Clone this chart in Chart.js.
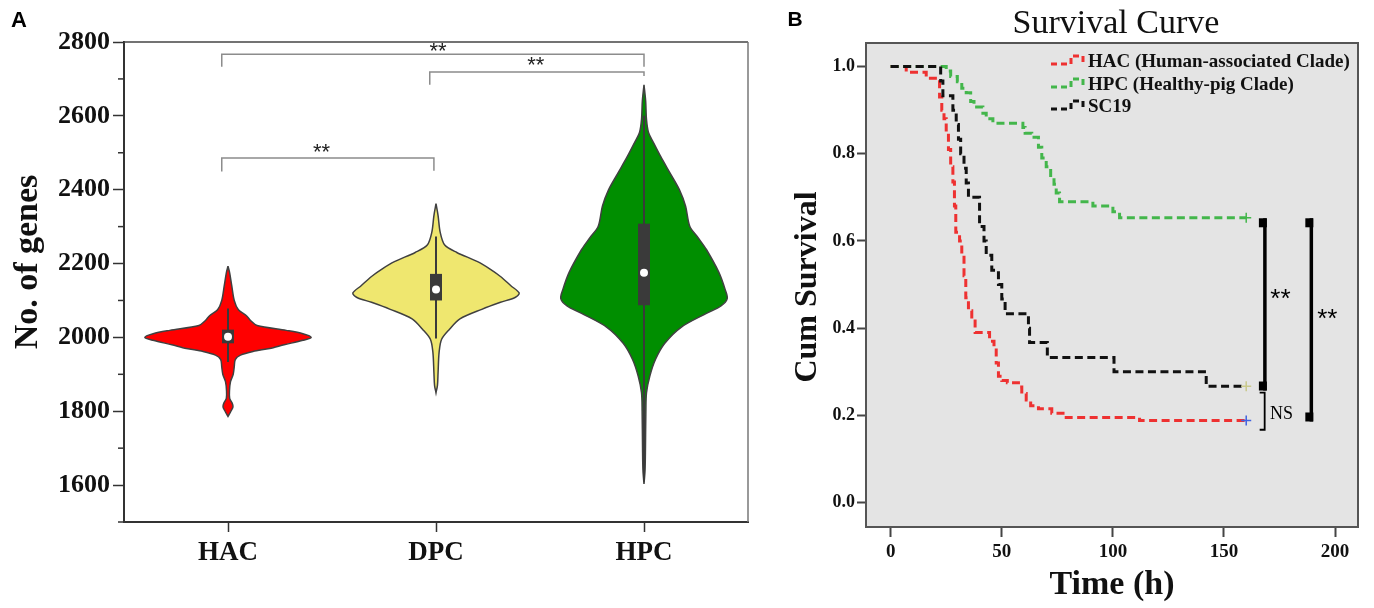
<!DOCTYPE html>
<html>
<head>
<meta charset="utf-8">
<script src="https://cdn.jsdelivr.net/npm/chart.js@4.4.0/dist/chart.umd.min.js"></script>
<style>
  body { margin: 0; background: #fff; width: 1374px; height: 608px; overflow: hidden; position: relative; }
  .panel { position: absolute; top: 0; height: 608px; }
  #pa { left: 0; width: 770px; }
  #pb { left: 770px; width: 604px; }
</style>
</head>
<body>
<div class="panel" id="pa"><canvas id="violin"></canvas></div>
<div class="panel" id="pb"><canvas id="survival"></canvas></div>
<script>
// ---- panel A data ----
const groups = ['HAC', 'DPC', 'HPC'];
const groupColors = ['#ff0000', '#efe76f', '#008e00'];

// violin outline: gene count (top to bottom) and half width in category units
const hacGenes = [2193, 2175, 2140, 2100, 2075, 2058, 2045, 2032, 2019, 2010, 2000, 1992, 1980, 1970, 1962, 1952, 1940, 1920, 1900, 1880, 1855, 1835, 1822, 1812, 1800, 1786];
const hacWidth = [0, 0.008, 0.018, 0.03, 0.05, 0.09, 0.11, 0.14, 0.28, 0.36, 0.40, 0.36, 0.27, 0.20, 0.12, 0.06, 0.035, 0.03, 0.025, 0.012, 0.007, 0.008, 0.02, 0.024, 0.014, 0];
const dpcGenes = [2362, 2330, 2285, 2250, 2230, 2205, 2185, 2165, 2140, 2120, 2108, 2095, 2076, 2050, 2022, 1995, 1960, 1905, 1870, 1850];
const dpcWidth = [0, 0.01, 0.02, 0.042, 0.10, 0.20, 0.26, 0.31, 0.36, 0.40, 0.38, 0.31, 0.22, 0.115, 0.065, 0.027, 0.015, 0.01, 0.007, 0];
const hpcGenes = [2684, 2640, 2590, 2554, 2527, 2490, 2446, 2400, 2355, 2301, 2270, 2238, 2176, 2130, 2105, 2085, 2065, 2028, 1984, 1940, 1895, 1850, 1800, 1700, 1640, 1603];
const hpcWidth = [0, 0.008, 0.012, 0.022, 0.046, 0.08, 0.124, 0.17, 0.20, 0.22, 0.26, 0.30, 0.36, 0.39, 0.40, 0.37, 0.30, 0.18, 0.10, 0.055, 0.028, 0.012, 0.009, 0.007, 0.005, 0];

// box: lower whisker, q1, median, q3, upper whisker
const hacBox = [1933, 1984, 2002, 2021, 2078];
const dpcBox = [1997, 2100, 2130, 2172, 2273];
const hpcBox = [1610, 2087, 2175, 2308, 2600];

const geneTicks = [1600, 1800, 2000, 2200, 2400, 2600, 2800];
const geneMinor = [1500, 1700, 1900, 2100, 2300, 2500, 2700];

// significance bars: from, to, bar level, left leg end, right leg end
const sigBars = [[-0.03, 0.99, 2486, 2449, 2451], [-0.03, 2.0, 2767, 2733, 2733], [0.97, 2.0, 2719, 2684, 2708]];
const sigStars = [[0.45, 2511], [1.01, 2784], [1.48, 2746]];

// ---- panel B data ----
const timeTicks = [0, 50, 100, 150, 200];
const survTicks = [0, 0.2, 0.4, 0.6, 0.8, 1.0];
const hacTime = [0, 7, 16, 22, 23, 24, 25, 26, 27, 28, 28.7, 29.3, 31, 32, 33, 33.8, 35, 36.5, 38, 44.5, 46.5, 47.5, 48.5, 50, 52.5, 57.5, 59, 61, 63, 66.5, 72.5, 79, 112, 160];
const hacSurv = [1, 0.987, 0.973, 0.93, 0.90, 0.88, 0.85, 0.81, 0.77, 0.735, 0.68, 0.62, 0.60, 0.57, 0.52, 0.47, 0.44, 0.42, 0.39, 0.37, 0.35, 0.32, 0.29, 0.28, 0.275, 0.265, 0.25, 0.235, 0.222, 0.215, 0.205, 0.195, 0.188, 0.188];
const hpcTime = [0, 25, 27, 30, 32, 34, 36, 37.5, 41.5, 43, 46, 59.5, 60.5, 63.5, 66.5, 68, 70, 72, 73.5, 74.5, 76, 91, 100, 103, 160];
const hpcSurv = [1, 0.99, 0.977, 0.965, 0.95, 0.94, 0.92, 0.907, 0.893, 0.88, 0.87, 0.86, 0.847, 0.838, 0.815, 0.79, 0.77, 0.75, 0.73, 0.71, 0.69, 0.68, 0.667, 0.653, 0.653];
const scTime = [0, 22.5, 23.5, 28, 29.5, 30.5, 31.5, 33, 34, 35, 40, 42, 43, 45.5, 48.5, 50, 51.5, 62, 62.5, 70.5, 100.5, 142, 160];
const scSurv = [1, 0.967, 0.933, 0.9, 0.867, 0.833, 0.8, 0.767, 0.733, 0.7, 0.633, 0.6, 0.567, 0.533, 0.5, 0.467, 0.433, 0.4, 0.367, 0.333, 0.3, 0.267, 0.267];
const curveNames = ['HAC (Human-associated Clade)', 'HPC (Healthy-pig Clade)', 'SC19'];
const curveColors = ['#ee3131', '#43b64b', '#111111'];
const censorColors = ['#4062e0', '#43b64b', '#c9c98c'];

// bracket: time, top, bottom
const sigLinesB = [[168.4, 0.652, 0.257], [189.3, 0.652, 0.186]];
const sigStarsB = [[175.4, 0.476], [196.5, 0.43]];
const nsBracket = [168.3, 0.252, 0.167];
const nsLabel = [175.9, 0.203];

const serif = '"Liberation Serif", "Times New Roman", serif';
const sans = '"Liberation Sans", Arial, sans-serif';
Chart.defaults.font.family = serif;

function violinPoints(c, genes, widths) {
  const right = genes.map((g, i) => ({x: c + widths[i], y: g}));
  const left = genes.map((g, i) => ({x: c - widths[i], y: g})).reverse();
  return right.concat(left);
}

const violinData = [[hacGenes, hacWidth], [dpcGenes, dpcWidth], [hpcGenes, hpcWidth]];
const boxes = [hacBox, dpcBox, hpcBox];
const datasetsA = [];
violinData.forEach(([g, w], i) => {
  const b = boxes[i];
  datasetsA.push({data: violinPoints(i, g, w), borderColor: '#404040', borderWidth: 1.5,
    backgroundColor: groupColors[i], fill: 'shape', tension: 0.3, pointRadius: 0, order: 4});
  datasetsA.push({data: [{x: i, y: b[0]}, {x: i, y: b[4]}], borderColor: '#3a3a3a', borderWidth: 2,
    pointRadius: 0, fill: false, order: 3});
  datasetsA.push({data: [{x: i, y: b[1]}, {x: i, y: b[3]}], borderColor: '#3a3a3a', borderWidth: 12,
    borderCapStyle: 'butt', pointRadius: 0, fill: false, order: 2});
  datasetsA.push({data: [{x: i, y: b[2]}], showLine: false, pointRadius: 4, pointBackgroundColor: '#fff',
    pointBorderWidth: 0, order: 1});
});
sigBars.forEach(s => {
  datasetsA.push({data: [{x: s[0], y: s[3]}, {x: s[0], y: s[2]}, {x: s[1], y: s[2]}, {x: s[1], y: s[4]}],
    borderColor: '#8c8c8c', borderWidth: 1.5, pointRadius: 0, fill: false, order: 0});
});

const panelA = {
  id: 'panelA',
  afterDraw(chart) {
    const {ctx, chartArea: a, scales: {x, y}} = chart;
    ctx.save();
    ctx.lineWidth = 1.5;
    ctx.strokeStyle = '#444';
    ctx.beginPath(); ctx.moveTo(a.left, a.top); ctx.lineTo(a.right, a.top); ctx.stroke();
    ctx.strokeStyle = '#777';
    ctx.beginPath(); ctx.moveTo(a.right, a.top); ctx.lineTo(a.right, a.bottom); ctx.stroke();
    ctx.strokeStyle = '#333';
    geneMinor.forEach(v => {
      const py = y.getPixelForValue(v);
      ctx.beginPath(); ctx.moveTo(a.left - 6, py); ctx.lineTo(a.left, py); ctx.stroke();
    });
    ctx.fillStyle = '#222';
    ctx.font = '22px ' + sans;
    ctx.textAlign = 'center';
    ctx.textBaseline = 'middle';
    sigStars.forEach(s => ctx.fillText('**', x.getPixelForValue(s[0]), y.getPixelForValue(s[1]) + 4));
    ctx.fillStyle = '#000';
    ctx.font = 'bold 22px ' + sans;
    ctx.fillText('A', 19, 21);
    ctx.fillStyle = '#111';
    ctx.font = 'bold 34px ' + serif;
    ctx.translate(28, 262);
    ctx.rotate(-Math.PI / 2);
    ctx.fillText('No. of genes', 0, 0);
    ctx.restore();
  }
};

new Chart(document.getElementById('violin'), {
  type: 'line',
  data: {datasets: datasetsA},
  options: {
    responsive: true, maintainAspectRatio: false, animation: false, events: [],
    layout: {padding: {top: 42, right: 22, left: 0, bottom: 0}},
    plugins: {legend: {display: false}, tooltip: {enabled: false}},
    scales: {
      x: {
        type: 'linear', min: -0.5, max: 2.5,
        afterBuildTicks: s => { s.ticks = groups.map((g, i) => ({value: i})); },
        afterFit: s => { s.height = 86; },
        ticks: {callback: v => groups[v], font: {size: 27, weight: 'bold'}, color: '#111', padding: 5, maxRotation: 0, autoSkip: false},
        grid: {drawOnChartArea: false, tickLength: 10, tickColor: '#333', tickWidth: 1.5},
        border: {color: '#333', width: 2}
      },
      y: {
        type: 'linear', min: 1500, max: 2800,
        afterBuildTicks: s => { s.ticks = geneTicks.map(v => ({value: v})); },
        afterFit: s => { s.width = 124; },
        ticks: {callback: v => String(v), font: {size: 26, weight: 'bold'}, color: '#111', padding: 3},
        grid: {drawOnChartArea: false, tickLength: 11, tickColor: '#333', tickWidth: 1.5},
        border: {color: '#333', width: 2}
      }
    }
  },
  plugins: [panelA]
});

// ---- panel B ----
const curves = [[hacTime, hacSurv], [hpcTime, hpcSurv], [scTime, scSurv]];
const datasetsB = [];
curves.forEach(([t, s], i) => {
  datasetsB.push({data: t.map((v, k) => ({x: v, y: s[k]})), stepped: true, borderColor: curveColors[i],
    borderWidth: 3, borderDash: [8, 4.5], pointRadius: 0, fill: false, order: 3 - i});
  datasetsB.push({data: [{x: 160, y: s[s.length - 1]}], showLine: false, pointStyle: 'cross', pointRadius: 5,
    pointBorderColor: censorColors[i], pointBorderWidth: 1.5, order: 0});
});

const panelB = {
  id: 'panelB',
  beforeDraw(chart) {
    const {ctx, chartArea: a} = chart;
    ctx.save();
    ctx.fillStyle = '#e4e4e4';
    ctx.fillRect(a.left, a.top, a.right - a.left, a.bottom - a.top);
    ctx.restore();
  },
  afterDraw(chart) {
    const {ctx, chartArea: a, scales: {x, y}} = chart;
    ctx.save();
    ctx.strokeStyle = '#555';
    ctx.lineWidth = 2;
    ctx.strokeRect(a.left, a.top, a.right - a.left, a.bottom - a.top);
    // brackets
    ctx.fillStyle = '#000';
    ctx.strokeStyle = '#000';
    sigLinesB.forEach(([t, top, bot]) => {
      const px = x.getPixelForValue(t), py1 = y.getPixelForValue(top), py2 = y.getPixelForValue(bot);
      ctx.lineWidth = 3.5;
      ctx.beginPath(); ctx.moveTo(px, py1); ctx.lineTo(px, py2); ctx.stroke();
      ctx.fillRect(px - 6, py1, 8, 9);
      ctx.fillRect(px - 6, py2 - 9, 8, 9);
    });
    ctx.font = '26px ' + sans;
    ctx.textAlign = 'center';
    ctx.textBaseline = 'middle';
    sigStarsB.forEach(([t, s]) => ctx.fillText('**', x.getPixelForValue(t), y.getPixelForValue(s) + 5));
    {
      const px = x.getPixelForValue(nsBracket[0]), py1 = y.getPixelForValue(nsBracket[1]), py2 = y.getPixelForValue(nsBracket[2]);
      ctx.lineWidth = 1.8;
      ctx.beginPath(); ctx.moveTo(px - 5, py1); ctx.lineTo(px, py1); ctx.lineTo(px, py2); ctx.lineTo(px - 5, py2); ctx.stroke();
      ctx.font = '18px ' + serif;
      ctx.fillText('NS', x.getPixelForValue(nsLabel[0]), y.getPixelForValue(nsLabel[1]));
    }
    // legend
    const rows = [62, 85, 107];
    rows.forEach((ly, i) => {
      ctx.strokeStyle = curveColors[i];
      ctx.lineWidth = 3;
      ctx.setLineDash([6, 4]);
      ctx.beginPath();
      ctx.moveTo(281, ly + 2); ctx.lineTo(301, ly + 2); ctx.lineTo(301, ly - 6); ctx.lineTo(313, ly - 6); ctx.lineTo(313, ly + 4);
      ctx.stroke();
      ctx.setLineDash([]);
      ctx.fillStyle = '#111';
      ctx.font = 'bold 19px ' + serif;
      ctx.textAlign = 'left';
      ctx.fillText(curveNames[i], 318, ly);
    });
    // titles
    ctx.textAlign = 'center';
    ctx.fillStyle = '#111';
    ctx.font = '34px ' + serif;
    ctx.fillText('Survival Curve', 346, 24);
    ctx.font = 'bold 34px ' + serif;
    ctx.fillText('Time (h)', 342, 585);
    ctx.fillStyle = '#000';
    ctx.font = 'bold 21px ' + sans;
    ctx.fillText('B', 25, 20);
    ctx.fillStyle = '#111';
    ctx.font = 'bold 32px ' + serif;
    ctx.translate(38, 287);
    ctx.rotate(-Math.PI / 2);
    ctx.fillText('Cum Survival', 0, 0);
    ctx.restore();
  }
};

new Chart(document.getElementById('survival'), {
  type: 'line',
  data: {datasets: datasetsB},
  options: {
    responsive: true, maintainAspectRatio: false, animation: false, events: [],
    layout: {padding: {top: 43, right: 16, left: 0, bottom: 0}},
    plugins: {legend: {display: false}, tooltip: {enabled: false}},
    scales: {
      x: {
        type: 'linear', min: -11.1, max: 210.3,
        afterBuildTicks: s => { s.ticks = timeTicks.map(v => ({value: v})); },
        afterFit: s => { s.height = 81; },
        ticks: {font: {size: 19, weight: 'bold'}, color: '#111', padding: 4, maxRotation: 0},
        grid: {drawOnChartArea: false, tickLength: 10, tickColor: '#444', tickWidth: 2},
        border: {color: '#555', width: 2}
      },
      y: {
        type: 'linear', min: -0.056, max: 1.054,
        afterBuildTicks: s => { s.ticks = survTicks.map(v => ({value: v})); },
        afterFit: s => { s.width = 96; },
        ticks: {callback: v => v.toFixed(1), font: {size: 18, weight: 'bold'}, color: '#111', padding: 2},
        grid: {drawOnChartArea: false, tickLength: 9, tickColor: '#444', tickWidth: 2},
        border: {color: '#555', width: 2}
      }
    }
  },
  plugins: [panelB]
});
</script>
</body>
</html>
